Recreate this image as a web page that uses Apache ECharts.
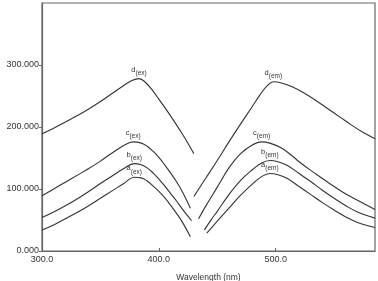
<!DOCTYPE html>
<html>
<head>
<meta charset="utf-8">
<script src="https://cdn.jsdelivr.net/npm/echarts@6/dist/echarts.min.js"></script>
<style>html,body{margin:0;padding:0;background:#fff}#c{width:378px;height:281px}</style>
</head>
<body>
<div id="c"></div>
<script>
// ---- data ----
const xTicks = [300, 400, 500];
const yTicks = [0, 100, 200, 300];

const dExX = [300,310,320,330,340,350,360,370,377,383,388,395,400,410,420,430];
const dExY = [189,198,208,218,229,241,254,267,275,278,273,258,245,218,189,157];
const cExX = [300,310,320,330,340,350,360,370,378,385,390,395,400,405,410,415,420,427];
const cExY = [89,100,111,122,133,145,158,170,176,174,169,161,151,139,126,112,96,69];
const bExX = [300,310,320,330,340,350,360,370,379,385,390,395,400,405,410,415,420,428];
const bExY = [54,63,73,84,96,109,121,133,141,139,134,126,116,105,93,81,68,49];
const aExX = [300,310,320,330,340,350,360,370,379,385,390,395,400,405,410,415,420,427];
const aExY = [34,42,52,62,73,85,97,109,119,118,113,105,96,86,74,61,47,23];

const dEmX = [430,440,450,460,470,480,487,493,498,505,515,525,535,545,555,565,575,585];
const dEmY = [88,117,146,176,205,233,253,267,273,271,264,254,242,229,216,203,191,181];
const cEmX = [434,440,450,460,470,480,488,495,505,515,520,530,540,550,560,570,585];
const cEmY = [52,72,103,134,157,171,176,174,166,152,144,130,117,104,92,82,67];
const bEmX = [439,445,450,460,470,480,488,495,502,510,520,530,540,550,560,570,585];
const bEmY = [34,51,64,91,114,131,142,146,144,138,125,112,98,85,73,63,53];
const aEmX = [441,450,460,470,480,488,495,502,510,520,530,540,550,560,570,585];
const aEmY = [29,48,69,90,108,120,125,123,117,104,91,78,66,55,46,38];

const curves = [
  {letter:'d', sub:'(ex)', x:dExX, y:dExY},
  {letter:'c', sub:'(ex)', x:cExX, y:cExY},
  {letter:'b', sub:'(ex)', x:bExX, y:bExY},
  {letter:'a', sub:'(ex)', x:aExX, y:aExY},
  {letter:'d', sub:'(em)', x:dEmX, y:dEmY},
  {letter:'c', sub:'(em)', x:cEmX, y:cEmY},
  {letter:'b', sub:'(em)', x:bEmX, y:bEmY},
  {letter:'a', sub:'(em)', x:aEmX, y:aEmY}
];

const FONT = 'Liberation Sans, Arial, sans-serif';
const LINE = '#333';
const AXIS = '#666';

const series = curves.map(c => ({
  type: 'line',
  data: c.x.map((v, i) => [v, c.y[i]]),
  showSymbol: false,
  smooth: 0.4,
  silent: true,
  lineStyle: {color: LINE, width: 1.1},
  markPoint: {
    symbol: 'circle', symbolSize: 0,
    data: [{type: 'max'}],
    label: {
      show: true, position: 'top', distance: 2,
      formatter: '{m|' + c.letter + '}{s|' + c.sub + '}',
      rich: {
        m: {fontSize: 7.5, fontFamily: FONT, color: '#333', verticalAlign: 'top', lineHeight: 11},
        s: {fontSize: 6.5, fontFamily: FONT, color: '#333', verticalAlign: 'bottom', lineHeight: 11, padding: [3,0,0,0]}
      }
    }
  }
}));

const chart = echarts.init(document.getElementById('c'), null, {renderer: 'canvas'});
chart.setOption({
  animation: false,
  backgroundColor: '#fff',
  grid: {left: 42, right: 3, top: 3, bottom: 30, show: true, borderColor: AXIS, borderWidth: 1.2,
    containLabel: false, outerBoundsMode: 'none'},
  xAxis: {
    type: 'value', min: 300, max: 585, interval: 100,
    name: 'Wavelength (nm)', nameLocation: 'middle', nameGap: 22,
    nameTextStyle: {fontSize: 8.5, fontFamily: FONT, color: '#333'},
    axisLine: {show: true, lineStyle: {color: AXIS, width: 1.2}},
    axisTick: {show: true, inside: true, length: 3, customValues: xTicks, lineStyle: {color: AXIS}},
    axisLabel: {fontSize: 9, fontFamily: FONT, color: '#333', margin: 4, customValues: xTicks,
      formatter: v => v.toFixed(1)},
    splitLine: {show: false}
  },
  yAxis: {
    type: 'value', min: 0, max: 400, interval: 100,
    name: 'intensity', nameLocation: 'middle', nameGap: 34, nameRotate: 90,
    nameTextStyle: {fontSize: 8, fontFamily: FONT, color: '#333'},
    axisLine: {show: true, lineStyle: {color: AXIS, width: 1.2}},
    axisTick: {show: true, inside: false, length: 3, customValues: yTicks, lineStyle: {color: AXIS}},
    axisLabel: {fontSize: 9, fontFamily: FONT, color: '#333', margin: 3, customValues: yTicks,
      formatter: v => v.toFixed(3)},
    splitLine: {show: false}
  },
  series: series
});
</script>
</body>
</html>
